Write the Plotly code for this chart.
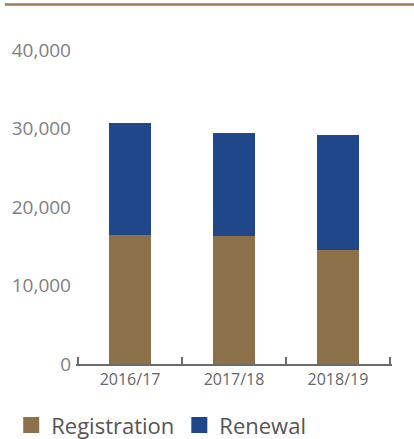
import plotly.graph_objects as go

# Application counts by financial year
years = ["2016/17", "2017/18", "2018/19"]
registration = [16450, 16330, 14540]
renewal = [14290, 13130, 14670]
y_ticks = [0, 10000, 20000, 30000, 40000]
y_tick_labels = ["0", "10,000", "20,000", "30,000", "40,000"]

BROWN = "#8c714b"
BLUE = "#204789"
FONT = "Open Sans"

fig = go.Figure()
fig.add_trace(go.Bar(x=years, y=registration, name="Registration",
                     marker=dict(color=BROWN, line=dict(width=0)),
                     width=0.4, showlegend=False))
fig.add_trace(go.Bar(x=years, y=renewal, name="Renewal",
                     marker=dict(color=BLUE, line=dict(width=0)),
                     width=0.4, showlegend=False))

# Legend entries with larger square swatches
for name, col in [("Registration", BROWN), ("Renewal", BLUE)]:
    fig.add_trace(go.Scatter(x=[None], y=[None], mode="markers", name=name,
                             marker=dict(symbol="square", size=16, color=col),
                             showlegend=True))

fig.update_layout(
    width=414, height=439,
    margin=dict(l=76, r=22, t=50, b=75, autoexpand=False),
    barmode="stack",
    plot_bgcolor="white", paper_bgcolor="white",
    font=dict(family=FONT, color="#666666"),
    showlegend=True,
    legend=dict(orientation="h", x=-0.205, xanchor="left",
                y=-0.195, yanchor="middle",
                font=dict(size=22, color="#555555", family=FONT),
                itemsizing="trace", traceorder="normal",
                bgcolor="rgba(0,0,0,0)"),
    xaxis=dict(type="category", showgrid=False, showline=True,
               linecolor="#6b6b6b", linewidth=1.5,
               ticks="inside", tickson="boundaries", ticklen=7,
               tickcolor="#6b6b6b", tickwidth=1.5,
               tickfont=dict(size=16, color="#666666", family=FONT),
               range=[-0.52, 2.52], fixedrange=True),
    yaxis=dict(range=[0, 40000], showgrid=False, zeroline=False, showline=False,
               tickmode="array", tickvals=y_ticks, ticktext=y_tick_labels,
               ticks="", ticklabelstandoff=4,
               tickfont=dict(size=19, color="#808080", family=FONT),
               fixedrange=True),
    shapes=[dict(type="line", xref="paper", yref="paper",
                 x0=-0.225, x1=1.08, y0=1.145, y1=1.145,
                 line=dict(color="#9a7d56", width=2.5))],
)

fig.write_html("out.html")
